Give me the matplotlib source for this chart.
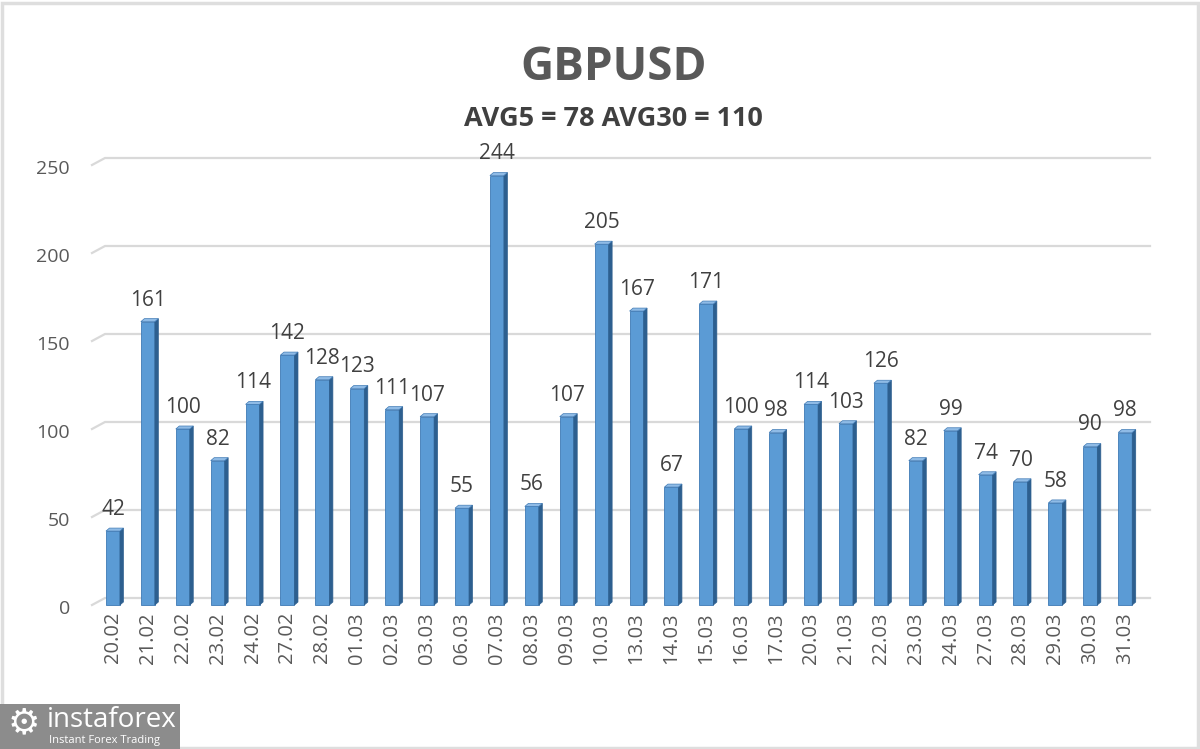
import matplotlib.pyplot as plt
from matplotlib.patches import Polygon, Rectangle
import numpy as np

plt.rcParams['font.family'] = ['Open Sans', 'DejaVu Sans']

dates = ["20.02", "21.02", "22.02", "23.02", "24.02", "27.02", "28.02", "01.03", "02.03", "03.03",
         "06.03", "07.03", "08.03", "09.03", "10.03", "13.03", "14.03", "15.03", "16.03", "17.03",
         "20.03", "21.03", "22.03", "23.03", "24.03", "27.03", "28.03", "29.03", "30.03", "31.03"]
values = [42, 161, 100, 82, 114, 142, 128, 123, 111, 107,
          55, 244, 56, 107, 205, 167, 67, 171, 100, 98,
          114, 103, 126, 82, 99, 74, 70, 58, 90, 98]
yticks = [0, 50, 100, 150, 200, 250]

W, H = 1200, 749
fig = plt.figure(figsize=(12, 7.49), dpi=100)
ax = fig.add_axes([92 / W, 144 / H, 1058 / W, 440 / H])
ax.set_xlim(-0.6, 29.71)
ax.set_ylim(0, 250)
ax.axis('off')

px_x = 34.9          # pixels per bar slot
px_y = 440 / 250     # pixels per unit

# back wall gridlines with slanted left end (3D floor look)
gdx, gdy = 13 / px_x, 7 / px_y
for v in yticks:
    ax.plot([-0.6, -0.6 + gdx, 29.71], [v, v + gdy, v + gdy], color='#d9d9d9', lw=1.6,
            clip_on=False, zorder=1)
    ax.text(-0.6 - 22 / px_x, v - 2 / px_y, str(v), ha='right', va='center_baseline',
            fontsize=14, color='#595959')

# bars
bw = 14 / px_x
sdx, sdy = 3.5 / px_x, 3 / px_y
for i, v in enumerate(values):
    x0 = i - bw / 2
    x1 = i + bw / 2
    ax.add_patch(Rectangle((x0, 0), bw, v, facecolor='#5b9bd5', edgecolor='#3f7ab5',
                           lw=0.6, zorder=3, clip_on=False))
    ax.add_patch(Polygon([(x1, 0), (x1 + sdx, sdy), (x1 + sdx, v + sdy), (x1, v)],
                         facecolor='#2d5f8f', edgecolor='#2d5f8f', lw=0.5, zorder=3,
                         clip_on=False))
    ax.add_patch(Polygon([(x0, v), (x1, v), (x1 + sdx, v + sdy), (x0 + sdx, v + sdy)],
                         facecolor='#8fbbe6', edgecolor='#3f7ab5', lw=0.5, zorder=3,
                         clip_on=False))
    ax.annotate(str(v), (i, v), xytext=(0, 8), textcoords='offset points',
                ha='center', va='bottom', fontsize=15, color='#404040')
    ax.text(i, -7 / px_y, dates[i], rotation=90, ha='center', va='top',
            fontsize=14.5, color='#595959')

fig.text(614 / W, 1 - 68 / H, "GBPUSD", ha='center', va='center', fontsize=33,
         fontweight='bold', color='#595959')
fig.text(613 / W, 1 - 119 / H, "AVG5 = 78 AVG30 = 110", ha='center', va='center',
         fontsize=19.5, fontweight='bold', color='#404040')

# outer frame
fig.add_artist(Rectangle((1.5 / W, 1.5 / H), 1 - 4 / W, 1 - 4 / H, transform=fig.transFigure,
                         fill=False, edgecolor='#dedede', lw=2.5))

# logo
fig.add_artist(Rectangle((0, 0), 180 / W, 45 / H, transform=fig.transFigure,
                         facecolor='#8c8c8c', edgecolor='none'))
fig.text(24 / W, 1 - 723 / H, "\u2699", ha='center', va='center', fontsize=26,
         color='white', family='DejaVu Sans')
fig.text(47 / W, 1 - 720 / H, "instaforex", ha='left', va='center', fontsize=20,
         color='white')
fig.text(49 / W, 1 - 740 / H, "Instant Forex Trading", ha='left', va='center', fontsize=8,
         color='white')

fig.savefig('out.png', dpi=100)
